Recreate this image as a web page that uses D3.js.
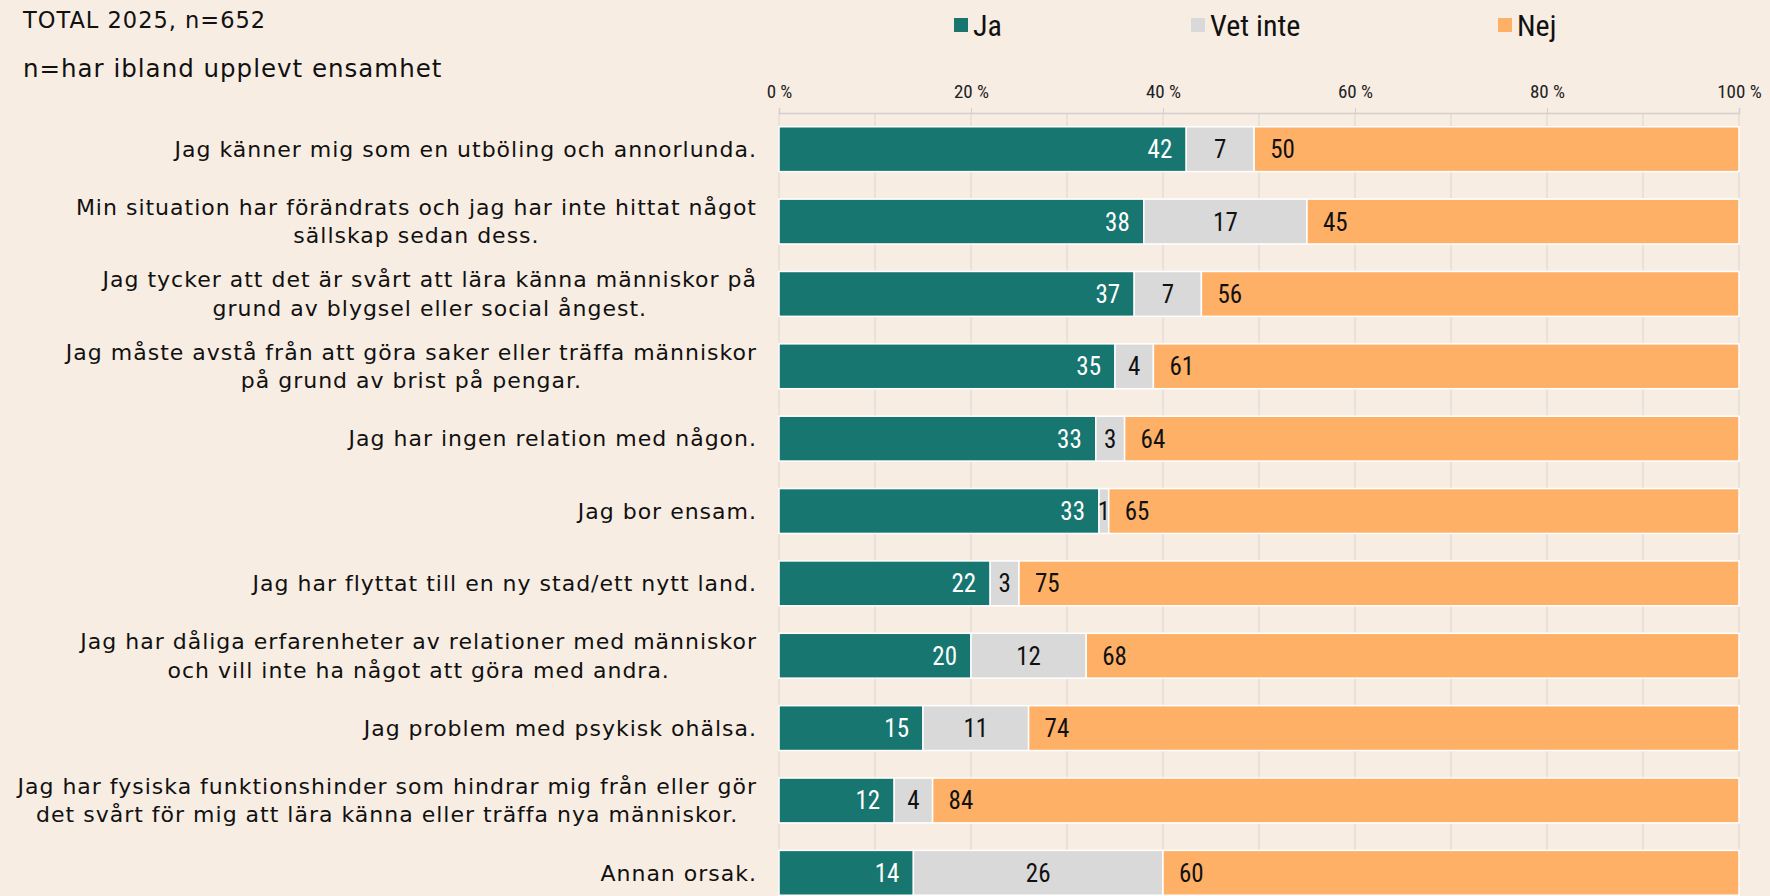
<!DOCTYPE html>
<html>
<head>
<meta charset="utf-8">
<script src="https://cdn.jsdelivr.net/npm/d3@7"></script>
<style>
  body { margin: 0; background: #f8ede3; }
  svg { display: block; }
  .lbl { font-family: "DejaVu Sans", "Noto Sans", sans-serif; fill: #111; letter-spacing: 1px; }
  .num { font-family: "Liberation Sans Narrow", "Roboto Condensed", "Roboto", sans-serif; font-stretch: condensed; }
</style>
</head>
<body>
<div id="chart"></div>
<script>
// categories, one per bar (lines split where the original breaks them)
const categories = [
    ["Jag känner mig som en utböling och annorlunda."],
    ["Min situation har förändrats och jag har inte hittat något", "sällskap sedan dess."],
    ["Jag tycker att det är svårt att lära känna människor på", "grund av blygsel eller social ångest."],
    ["Jag måste avstå från att göra saker eller träffa människor", "på grund av brist på pengar."],
    ["Jag har ingen relation med någon."],
    ["Jag bor ensam."],
    ["Jag har flyttat till en ny stad/ett nytt land."],
    ["Jag har dåliga erfarenheter av relationer med människor", "och vill inte ha något att göra med andra."],
    ["Jag problem med psykisk ohälsa."],
    ["Jag har fysiska funktionshinder som hindrar mig från eller gör", "det svårt för mig att lära känna eller träffa nya människor."],
    ["Annan orsak."]
];
const seriesNames = ["Ja", "Vet inte", "Nej"];
const ja      = [42, 38, 37, 35, 33, 33, 22, 20, 15, 12, 14];
const vetInte = [ 7, 17,  7,  4,  3,  1,  3, 12, 11,  4, 26];
const nej     = [50, 45, 56, 61, 64, 65, 75, 68, 74, 84, 60];
const tickValues = [0, 0.2, 0.4, 0.6, 0.8, 1];
const colors = ["#17766f", "#d9d9d9", "#ffb067"];
const textColors = ["#ffffff", "#111111", "#111111"];

const width = 1770, height = 896;
const margin = {left: 779, right: 31, top: 113, bottom: -13};

const rows = categories.map((c, i) => ({
    key: i, lines: c, "Ja": ja[i], "Vet inte": vetInte[i], "Nej": nej[i]
}));

const svg = d3.select("#chart").append("svg")
    .attr("width", width)
    .attr("height", height);

svg.append("rect").attr("width", width).attr("height", height).attr("fill", "#f8ede3");

const xScale = d3.scaleLinear()
    .domain([0, 1])
    .range([margin.left, width - margin.right]);

const yScale = d3.scaleBand()
    .domain(rows.map(d => d.key))
    .range([margin.top, height - margin.bottom])
    .paddingInner(0.38)
    .paddingOuter(0.19);

// grid
svg.append("g").selectAll("line")
    .data(d3.range(0, 1.0001, 0.1))
    .enter().append("line")
    .attr("x1", d => xScale(d)).attr("x2", d => xScale(d))
    .attr("y1", margin.top).attr("y2", height)
    .attr("stroke", "#dedad6").attr("stroke-width", 1.2);

// axis on top
const xAxis = d3.axisTop(xScale)
    .tickValues(tickValues)
    .tickSize(5)
    .tickFormat(d => Math.round(d * 100) + " %");
const axisG = svg.append("g")
    .attr("transform", `translate(0, ${margin.top})`)
    .call(xAxis);
axisG.select(".domain").attr("stroke", "#d3cfcb").attr("stroke-width", 1.5);
axisG.selectAll(".tick line").attr("stroke", "#d3cfcb");
axisG.selectAll(".tick text")
    .attr("class", "num")
    .attr("y", -15)
    .attr("fill", "#222")
    .style("font-size", "19px");

// stacked bars (normalised to 100 %)
const stack = d3.stack().keys(seriesNames).offset(d3.stackOffsetExpand);
const layers = stack(rows);

const layerG = svg.append("g").selectAll("g")
    .data(layers)
    .enter().append("g")
    .attr("fill", (d, i) => colors[i]);

layerG.selectAll("rect")
    .data(d => d)
    .enter().append("rect")
    .attr("x", d => xScale(d[0]))
    .attr("y", d => yScale(d.data.key))
    .attr("width", d => xScale(d[1]) - xScale(d[0]))
    .attr("height", yScale.bandwidth())
    .attr("stroke", "#ffffff")
    .attr("stroke-width", 1.5);

// value labels
layers.forEach((layer, li) => {
    svg.append("g").selectAll("text")
        .data(layer)
        .enter().append("text")
        .attr("class", "num")
        .attr("x", d => {
            if (li === 0) return xScale(d[1]) - 14;
            if (li === 1) return (xScale(d[0]) + xScale(d[1])) / 2;
            return xScale(d[0]) + 16;
        })
        .attr("y", d => yScale(d.data.key) + yScale.bandwidth() / 2)
        .attr("dy", "0.36em")
        .attr("text-anchor", li === 0 ? "end" : li === 1 ? "middle" : "start")
        .attr("fill", textColors[li])
        .style("font-size", "25px")
        .text(d => d.data[layer.key]);
});

// category labels: lines centred on each other, block right-aligned
const labelRight = margin.left - 22;
const lineH = 28.5;
rows.forEach(r => {
    const g = svg.append("g");
    const yc = yScale(r.key) + yScale.bandwidth() / 2;
    const texts = r.lines.map((line, j) => g.append("text")
        .attr("class", "lbl")
        .attr("y", yc + (j - (r.lines.length - 1) / 2) * lineH)
        .attr("dy", "0.35em")
        .attr("text-anchor", "middle")
        .style("font-size", "22px")
        .text(line));
    const maxW = d3.max(texts, t => t.node().getComputedTextLength());
    texts.forEach(t => t.attr("x", labelRight - maxW / 2));
});

// legend
const legendX = [954, 1191, 1498];
const legend = svg.append("g").selectAll("g")
    .data(seriesNames)
    .enter().append("g")
    .attr("transform", (d, i) => `translate(${legendX[i]}, 25)`);
legend.append("rect")
    .attr("x", 0).attr("y", -7)
    .attr("width", 14).attr("height", 14)
    .attr("fill", (d, i) => colors[i]);
legend.append("text")
    .attr("class", "num")
    .attr("x", 19).attr("dy", "0.36em")
    .style("font-size", "30px")
    .attr("fill", "#111")
    .text(d => d);

// titles
svg.append("text").attr("class", "lbl")
    .attr("x", 23).attr("y", 20).attr("dy", "0.35em")
    .style("font-size", "22.5px")
    .text("TOTAL  2025, n=652");
svg.append("text").attr("class", "lbl")
    .attr("x", 23).attr("y", 68).attr("dy", "0.35em")
    .style("font-size", "24.5px")
    .text("n=har ibland upplevt ensamhet");
</script>
</body>
</html>
